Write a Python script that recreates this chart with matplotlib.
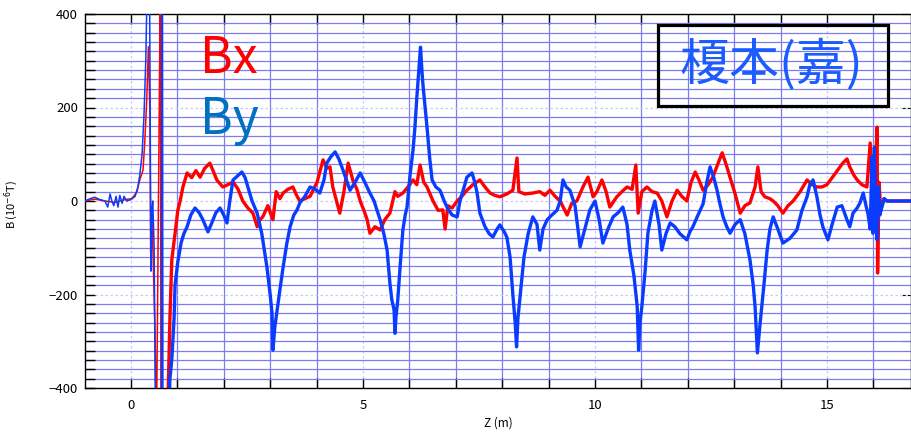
import matplotlib.pyplot as plt
from matplotlib.patches import Rectangle
from matplotlib.ticker import MultipleLocator

plt.rcParams['font.family'] = ['Noto Sans CJK JP', 'DejaVu Sans']

# Bx (red): z in m, B in 1e-6 T (+-500 = off scale)
z_bx = [-0.99, -0.78, -0.56, -0.34, -0.13, 0.02, 0.13, 0.19, 0.26, 0.30, 0.34, 0.377,
        0.41, 0.425, 0.45, 0.52, 0.55, 0.636, 0.647, 0.80, 0.84, 0.88, 0.95, 1.01,
        1.06, 1.12, 1.21, 1.31, 1.40, 1.49, 1.59, 1.70, 1.79, 1.85, 1.98, 2.09,
        2.20, 2.31, 2.41, 2.52, 2.63, 2.72, 2.78, 2.84, 2.95, 3.06, 3.13, 3.21,
        3.28, 3.38, 3.49, 3.58, 3.64, 3.75, 3.86, 4.01, 4.14, 4.22, 4.29, 4.35,
        4.44, 4.50, 4.59, 4.68, 4.74, 4.78, 4.87, 4.94, 5.02, 5.09, 5.15, 5.26,
        5.37, 5.47, 5.58, 5.69, 5.75, 5.86, 5.97, 6.08, 6.16, 6.23, 6.31, 6.38,
        6.51, 6.62, 6.72, 6.77, 6.83, 6.92, 7.03, 7.13, 7.24, 7.37, 7.52, 7.63,
        7.74, 7.84, 7.95, 8.10, 8.23, 8.32, 8.36, 8.49, 8.66, 8.81, 8.92, 9.03,
        9.14, 9.25, 9.40, 9.50, 9.61, 9.74, 9.85, 9.96, 10.04, 10.15, 10.24, 10.32,
        10.47, 10.58, 10.69, 10.80, 10.88, 10.93, 11.01, 11.12, 11.23, 11.34, 11.44, 11.55,
        11.66, 11.77, 11.87, 11.98, 12.07, 12.16, 12.24, 12.33, 12.44, 12.54, 12.65, 12.74,
        12.82, 12.91, 13.02, 13.13, 13.23, 13.34, 13.45, 13.51, 13.58, 13.66, 13.77, 13.84,
        13.94, 14.05, 14.16, 14.27, 14.42, 14.57, 14.68, 14.78, 14.89, 15.00, 15.11, 15.22,
        15.34, 15.43, 15.49, 15.58, 15.65, 15.75, 15.86, 15.93, 15.97, 16.03, 16.08, 16.09,
        16.12, 16.16, 16.23, 16.29, 16.81]
bx = [0, 4, 0, -3, 3, 5, 20, 45, 66, 130, 216, 330,
      180, -110, -20, -280, -500, 500, -500, -420, -250, -126, -70, -20,
      0, 30, 60, 50, 65, 51, 70, 81, 60, 45, 30, 35,
      41, 25, 0, -15, -26, -55, -40, -34, -10, -40, 20, 5,
      17, 25, 30, 10, 0, 5, 10, 40, 88, 70, 73, 30,
      -4, -26, 20, 81, 60, 45, 25, 0, -20, -40, -69, -55,
      -62, -40, -26, 20, 10, 17, 30, 45, 35, 77, 40, 30,
      0, -20, -19, -60, -10, -15, 0, 10, 23, 35, 45, 30,
      17, 12, 9, 15, 23, 92, 20, 15, 17, 20, 12, 23,
      10, 0, -30, -5, 0, 30, 51, 9, 20, 45, 20, -13,
      9, 20, 30, 25, 77, -26, 20, 30, 20, 17, 0, -34,
      0, 23, 10, 0, 40, 62, 45, 23, 35, 51, 80, 103,
      80, 51, 15, -26, -10, -4, 30, 73, 20, 9, 5, 0,
      -10, -26, -10, 0, 20, 45, 35, 30, 30, 35, 50, 65,
      81, 90, 73, 55, 45, 35, 30, 124, 40, 30, 158, -154,
      40, -20, 5, 0, 0]

# By (blue)
z_by = [-0.99, -0.88, -0.78, -0.67, -0.56, -0.50, -0.45, -0.41, -0.37, -0.32, -0.28, -0.24,
        -0.19, -0.15, -0.09, 0.0, 0.09, 0.15, 0.19, 0.24, 0.28, 0.32, 0.356, 0.40,
        0.43, 0.45, 0.47, 0.50, 0.53, 0.657, 0.668, 0.679, 0.69, 0.80, 0.84, 0.88,
        0.93, 0.95, 1.01, 1.08, 1.14, 1.21, 1.29, 1.38, 1.47, 1.55, 1.66, 1.75,
        1.83, 1.92, 2.00, 2.07, 2.13, 2.20, 2.31, 2.39, 2.46, 2.52, 2.61, 2.72,
        2.82, 2.93, 3.00, 3.04, 3.06, 3.10, 3.15, 3.21, 3.28, 3.36, 3.43, 3.51,
        3.58, 3.64, 3.75, 3.86, 3.97, 4.07, 4.16, 4.22, 4.31, 4.40, 4.48, 4.57,
        4.66, 4.72, 4.83, 4.94, 5.04, 5.15, 5.24, 5.30, 5.37, 5.45, 5.52, 5.58,
        5.62, 5.67, 5.69, 5.71, 5.75, 5.80, 5.86, 5.91, 5.95, 6.01, 6.08, 6.12,
        6.16, 6.21, 6.24, 6.27, 6.29, 6.34, 6.38, 6.44, 6.49, 6.57, 6.66, 6.75,
        6.81, 6.92, 7.03, 7.09, 7.18, 7.24, 7.35, 7.41, 7.46, 7.52, 7.63, 7.72,
        7.80, 7.89, 7.95, 8.04, 8.10, 8.17, 8.23, 8.28, 8.31, 8.34, 8.41, 8.47,
        8.56, 8.66, 8.75, 8.81, 8.88, 8.97, 9.07, 9.18, 9.25, 9.31, 9.38, 9.46,
        9.57, 9.68, 9.78, 9.89, 10.00, 10.09, 10.17, 10.28, 10.39, 10.50, 10.60, 10.69,
        10.75, 10.84, 10.91, 10.94, 10.97, 11.01, 11.08, 11.14, 11.23, 11.29, 11.38, 11.44,
        11.53, 11.62, 11.72, 11.83, 11.98, 12.05, 12.11, 12.22, 12.33, 12.41, 12.48, 12.56,
        12.63, 12.69, 12.76, 12.84, 12.91, 13.02, 13.13, 13.23, 13.34, 13.41, 13.45, 13.50,
        13.56, 13.64, 13.71, 13.77, 13.84, 13.94, 14.05, 14.20, 14.35, 14.46, 14.57, 14.63,
        14.70, 14.78, 14.85, 14.91, 15.02, 15.11, 15.22, 15.32, 15.43, 15.49, 15.56, 15.65,
        15.71, 15.78, 15.84, 15.88, 15.93, 15.97, 15.99, 16.02, 16.06, 16.08, 16.11, 16.14,
        16.18, 16.23, 16.29, 16.81]
by = [0, 5, 8, 3, 0, -13, 15, 0, -10, 10, -13, 12,
      -5, 10, 0, 3, 10, 30, 55, 100, 180, 300, 500, 500,
      -150, -20, 0, -100, -500, -500, 500, 500, -500, -500, -380, -340,
      -250, -180, -130, -90, -70, -55, -30, -15, -25, -40, -66, -45,
      -25, -15, -30, -47, 0, 45, 55, 62, 50, 30, 0, -26,
      -70, -141, -200, -240, -319, -270, -233, -190, -141, -90, -55, -30,
      -19, -4, 10, 30, 25, 17, 45, 81, 95, 105, 90, 66,
      40, 23, 40, 60, 40, 17, 0, -19, -40, -70, -105, -175,
      -210, -233, -283, -250, -212, -141, -62, -30, -13, 51, 110, 158,
      220, 290, 329, 280, 252, 200, 158, 90, 45, 30, 23, 0,
      -13, -30, -34, 0, 30, 51, 60, 40, 17, -26, -55, -70,
      -77, -60, -51, -65, -77, -120, -200, -260, -312, -250, -180, -120,
      -70, -34, -50, -105, -60, -40, -30, -20, 0, 45, 30, 23,
      -10, -98, -60, -19, 0, -40, -90, -60, -34, -25, -13, -50,
      -105, -160, -226, -319, -260, -226, -150, -69, -20, 0, -50, -105,
      -70, -47, -55, -70, -83, -65, -55, -30, -6, 40, 73, 50,
      23, -5, -34, -55, -69, -50, -40, -70, -126, -180, -226, -325,
      -260, -180, -105, -60, -34, -60, -90, -80, -62, -20, 9, 35,
      45, 10, -30, -55, -83, -50, -13, -10, -40, -55, -26, -15,
      -4, 17, -10, -26, -60, 94, -69, 115, -40, -83, 30, -30,
      -13, 5, 0, 0]

fig = plt.figure(figsize=(9.12, 4.32), dpi=100)
ax = fig.add_axes([85 / 912, 1 - 388 / 432, 826 / 912, 374 / 432])

# thin trace before the magnet, thick noisy band afterwards
nb = 19
ny = 33
ax.plot(z_bx[:nb + 1], bx[:nb + 1], color='#ff0000', lw=1.1, zorder=3)
ax.plot(z_bx[nb:], bx[nb:], color='#ff0000', lw=2.4, zorder=3)
ax.plot(z_by[:ny + 1], by[:ny + 1], color='#0a3cff', lw=1.1, zorder=4)
ax.plot(z_by[ny:], by[ny:], color='#0a3cff', lw=2.4, zorder=4)

ax.set_xlim(-0.99, 16.81)
ax.set_ylim(-400, 400)
ax.xaxis.set_major_locator(MultipleLocator(5))
ax.xaxis.set_minor_locator(MultipleLocator(1))
ax.yaxis.set_major_locator(MultipleLocator(200))
ax.yaxis.set_minor_locator(MultipleLocator(20))

ax.grid(which='minor', color='#7b7bf2', lw=0.9)
ax.grid(which='major', color='#c8c8fa', lw=0.9, ls=(0, (2, 2)))
ax.set_axisbelow(True)

ax.tick_params(which='both', direction='in', top=True, right=False,
               length=7, width=1, labelsize=9.5, colors='black')
ax.tick_params(axis='x', pad=8)
ax.tick_params(axis='y', pad=5)
for s in ax.spines.values():
    s.set_linewidth(1)

sec = ax.secondary_yaxis('right')
sec.set_yticks(range(-400, 401, 100))
sec.tick_params(direction='in', length=7, labelright=False)

ax.set_xlabel('Z (m)', fontsize=8.5)
ax.xaxis.set_label_coords(0.5, -0.075)
ax.set_ylabel('B (10$^{-6}$T)', fontsize=8)
ax.yaxis.set_label_coords(-0.079, 0.49)

fig.text(200 / 912, 1 - 73 / 432, 'Bx', color='#ff0000', fontsize=36, va='baseline')
fig.text(200 / 912, 1 - 134 / 432, 'By', color='#0070c0', fontsize=36, va='baseline')

fig.add_artist(Rectangle((658 / 912, 1 - 106 / 432), 230 / 912, 81 / 432,
                         transform=fig.transFigure, fill=False, ec='black', lw=2.3))
fig.text(771 / 912, 1 - 66 / 432, '榎本(嘉)', color='#1b5cff', fontsize=36,
         ha='center', va='center')

fig.savefig('out.png', dpi=100)
